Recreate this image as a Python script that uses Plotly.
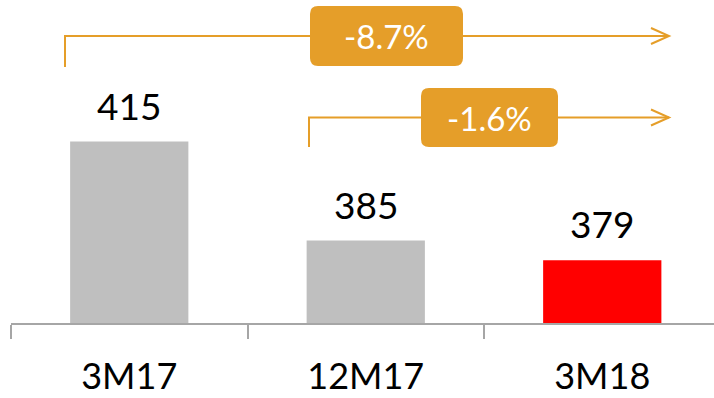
import plotly.graph_objects as go

# Data
categories = ["3M17", "12M17", "3M18"]
values = [415, 385, 379]
bar_colors = ["#BFBFBF", "#BFBFBF", "#FF0000"]

# Comparisons shown as brackets: (from index, to index)
comparisons = [(0, 2), (1, 2)]

ORANGE = "#E59E29"
AXIS_GRAY = "#A6A6A6"
FONT = "Lato"

W, H = 714, 398
ML, MR, MT, MB = 11, 0, 0, 75
PW, PH = W - ML - MR, H - MT - MB
CAT_PX = 236.5           # pixel width of one category slot
Y0, PX_PER_UNIT = 360, 3.3


def px(xp):
    """figure pixel x -> paper x"""
    return (xp - ML) / PW


def py(yp):
    """figure pixel y -> paper y"""
    return (H - MB - yp) / PH


fig = go.Figure(
    go.Bar(
        x=categories,
        y=values,
        width=0.5,
        marker=dict(color=bar_colors, line=dict(width=0)),
        hoverinfo="skip",
    )
)

# Value labels above the bars
for c, v in zip(categories, values):
    fig.add_annotation(
        x=c, y=v, text=f"{v}", showarrow=False,
        xanchor="center", yanchor="bottom", yshift=12,
        font=dict(family=FONT, size=37, color="black"),
    )


def rounded_rect(x0, y0, x1, y1, r=8):
    # pixel coordinates in, paper path out
    pts = [
        ("M", [(x0 + r, y0)]),
        ("L", [(x1 - r, y0)]),
        ("Q", [(x1, y0), (x1, y0 + r)]),
        ("L", [(x1, y1 - r)]),
        ("Q", [(x1, y1), (x1 - r, y1)]),
        ("L", [(x0 + r, y1)]),
        ("Q", [(x0, y1), (x0, y1 - r)]),
        ("L", [(x0, y0 + r)]),
        ("Q", [(x0, y0), (x0 + r, y0)]),
    ]
    s = ""
    for cmd, ps in pts:
        s += cmd + " " + " ".join(f"{px(a):.5f},{py(b):.5f}" for a, b in ps) + " "
    return s + "Z"


# Bracket geometry (pixels): start x, top y, drop y, arrow tip x, box extents
brackets = [
    dict(x_start=65, y_line=36, y_drop=67, x_tip=669, box=(310, 6, 463, 66)),
    dict(x_start=309, y_line=117.5, y_drop=147, x_tip=669, box=(421, 88, 558, 147)),
]

for (i, j), b in zip(comparisons, brackets):
    pct = (values[j] / values[i] - 1) * 100
    line = dict(color=ORANGE, width=2)
    fig.add_shape(
        type="path", xref="paper", yref="paper", line=line,
        path=(f"M {px(b['x_start'])},{py(b['y_drop'])} "
              f"L {px(b['x_start'])},{py(b['y_line'])} "
              f"L {px(b['x_tip'])},{py(b['y_line'])}"),
    )
    fig.add_shape(
        type="path", xref="paper", yref="paper", line=line,
        path=(f"M {px(b['x_tip'] - 18)},{py(b['y_line'] - 8)} "
              f"L {px(b['x_tip'])},{py(b['y_line'])} "
              f"L {px(b['x_tip'] - 18)},{py(b['y_line'] + 8)}"),
    )
    bx0, by0, bx1, by1 = b["box"]
    fig.add_shape(
        type="path", xref="paper", yref="paper",
        path=rounded_rect(bx0, by0, bx1, by1),
        fillcolor=ORANGE, line=dict(width=0),
    )
    fig.add_annotation(
        xref="paper", yref="paper",
        x=px((bx0 + bx1) / 2), y=py((by0 + by1) / 2),
        xanchor="center", yanchor="middle",
        text=f"{pct:.1f}%", showarrow=False,
        font=dict(family=FONT, size=33, color="white"),
    )

fig.update_layout(
    width=W, height=H,
    margin=dict(l=ML, r=MR, t=MT, b=MB, pad=0),
    paper_bgcolor="white", plot_bgcolor="white",
    showlegend=False,
    xaxis=dict(
        type="category",
        range=[-0.5, -0.5 + PW / CAT_PX],
        showline=True, linecolor=AXIS_GRAY, linewidth=1.5,
        ticks="outside", tickson="boundaries", ticklen=14,
        tickcolor=AXIS_GRAY, tickwidth=1.5,
        ticklabelstandoff=21,
        tickfont=dict(family=FONT, size=36, color="black"),
        showgrid=False, zeroline=False, fixedrange=True, automargin=False,
    ),
    yaxis=dict(
        range=[Y0, Y0 + PH / PX_PER_UNIT],
        visible=False, showgrid=False, zeroline=False, fixedrange=True,
    ),
)

fig.write_html("out.html")
